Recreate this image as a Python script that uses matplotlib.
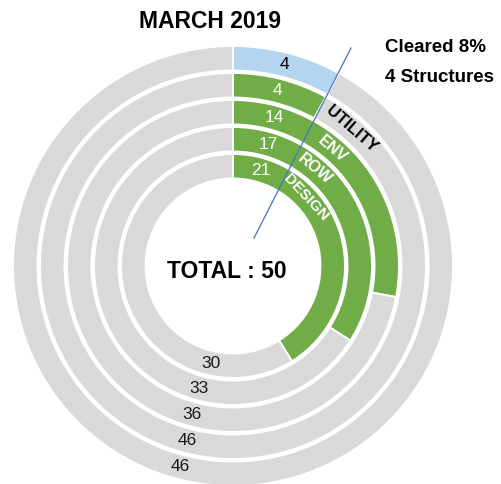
import numpy as np
import matplotlib
matplotlib.use("Agg")
import matplotlib.pyplot as plt

plt.rcParams['font.family'] = ['Liberation Sans', 'DejaVu Sans']

# Data (outer ring -> inner ring)
ring_names = ["CLEARED", "UTILITY", "ENV", "ROW", "DESIGN"]
completed = [4, 4, 14, 17, 21]
remaining = [46, 46, 36, 33, 30]
total = 50
title = "MARCH 2019"
note_lines = ["Cleared 8%", "4 Structures"]

# Styles
done_colors = ["#B4D4F0", "#70AD47", "#70AD47", "#70AD47", "#70AD47"]
rest_color = "#D9D9D9"
done_text = ["#000000", "white", "white", "white", "white"]

W, H = 502, 484
cx, cy = 233, 266
fig = plt.figure(figsize=(W / 100, H / 100), dpi=100)
ax = fig.add_axes([0, 0, 1, 1])

outer_r = [220, 193, 166, 139, 112]
ring_w = 24.5

for i in range(len(completed)):
    ax.pie([completed[i], remaining[i]], radius=outer_r[i], startangle=90,
           counterclock=False, colors=[done_colors[i], rest_color],
           wedgeprops=dict(width=ring_w, edgecolor='white', linewidth=1.4))

def pos(theta_deg, r):
    t = np.deg2rad(theta_deg)
    return r * np.sin(t), r * np.cos(t)

mid_r = [r - ring_w / 2 for r in outer_r]
val_ang = [14.2, 14.2, 15.4, 16.2, 16.4]
rest_ang = [194.7, 194.7, 195.5, 195.5, 192.5]
for i in range(len(completed)):
    x, y = pos(val_ang[i], mid_r[i])
    ax.text(x, y, str(completed[i]), color=done_text[i], fontsize=12.5,
            ha='center', va='center')
    x, y = pos(rest_ang[i], mid_r[i])
    ax.text(x, y, str(remaining[i]), color='#1a1a1a', fontsize=12.5,
            ha='center', va='center')

# Category labels
cat_ang = [None, 41.0, 40.4, 39.9, 47.0]
cat_size = [None, 12, 11.5, 11.5, 11]
for i in range(1, len(ring_names)):
    x, y = pos(cat_ang[i], mid_r[i])
    col = 'black' if i == 1 else 'white'
    ax.text(x, y, ring_names[i], color=col, fontsize=cat_size[i],
            fontweight='bold', ha='center', va='center',
            rotation=-cat_ang[i], rotation_mode='anchor')

# Annotation line
ax.plot([351 - cx, 254 - cx], [cy - 48, cy - 238], color='#4472C4', lw=0.9)

ax.text(210 - cx, cy - 22, title, fontsize=16.5, fontweight='bold',
        ha='center', va='center')
ax.text(227 - cx, cy - 272, f"TOTAL : {total}", fontsize=16.5,
        fontweight='bold', ha='center', va='center')
ax.text(385 - cx, cy - 48, note_lines[0], fontsize=13.5, fontweight='bold',
        ha='left', va='center')
ax.text(385 - cx, cy - 78, note_lines[1], fontsize=13.5, fontweight='bold',
        ha='left', va='center')

ax.set_xlim(-cx, W - cx)
ax.set_ylim(cy - H, cy)
ax.set_aspect('equal')
ax.axis('off')

fig.savefig("out.png", dpi=100)
